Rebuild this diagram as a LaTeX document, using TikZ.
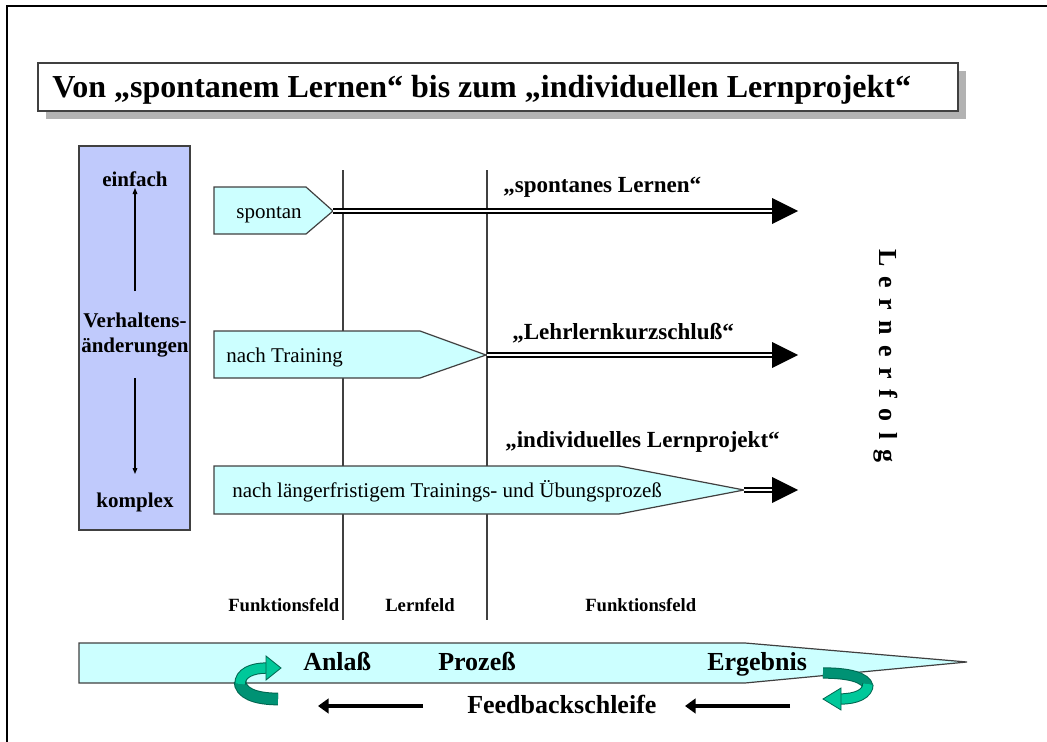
\documentclass[tikz,border=0pt]{standalone}
\usepackage{fontspec}
\setmainfont{Liberation Serif}
\usetikzlibrary{arrows.meta,calc}
\definecolor{paleCyan}{HTML}{CCFFFF}
\definecolor{lavender}{HTML}{C0CAFC}
\definecolor{edgeGray}{HTML}{404040}
\definecolor{shadowGray}{HTML}{B2B2B2}
\definecolor{tealDark}{HTML}{009274}
\definecolor{tealLight}{HTML}{00C89A}
\definecolor{tealEdge}{HTML}{006650}

\begin{document}
\begin{tikzpicture}[x=0.75pt,y=-0.75pt,
  panel/.style={fill=paleCyan, draw=edgeGray, line width=0.9pt, line join=miter},
  plain/.style={inner sep=0pt, font=\fontsize{15.75}{18}\selectfont},
  boldtxt/.style={inner sep=0pt, font=\fontsize{15.75}{18}\selectfont\bfseries},
  headline/.style={inner sep=0pt, font=\fontsize{17.3}{20}\selectfont\bfseries},
  fieldtxt/.style={inner sep=0pt, font=\fontsize{14}{16}\selectfont\bfseries},
  stagetxt/.style={inner sep=0pt, font=\fontsize{19.5}{22}\selectfont\bfseries},
  divider/.style={draw=edgeGray, line width=1pt},
  smallarrow/.style={draw=black, line width=0.8pt, -{Triangle[length=4.5pt,width=3.5pt]}},
  fbarrow/.style={draw=black, line width=3.6pt, -{Triangle[length=8pt,width=11pt]}},
  dblline/.style={draw=black, line width=1.4pt, double=white, double distance=1.6pt},
  headtri/.style={fill=black}
]
\useasboundingbox (0,0) rectangle (1047,742);

% page frame: top and left edge
\draw[line width=1.6pt] (7,742) -- (7,6) -- (1047,6);

% title bar with drop shadow
\fill[shadowGray] (46,71) rectangle (966,119);
\draw[fill=white, draw=edgeGray, line width=0.9pt] (38,63) rectangle (958,111);
\node[inner sep=0pt, anchor=base west, font=\fontsize{24}{28}\selectfont\bfseries]
  (title) at (52,98) {Von „spontanem Lernen“ bis zum „individuellen Lernprojekt“};

% scale of behaviour change
\draw[fill=lavender, draw=edgeGray, line width=0.9pt] (79,146) rectangle (190,530);
\node[boldtxt, anchor=base] (einfach) at (135,186) {einfach};
\node[boldtxt, anchor=base] (verh1) at (135,327) {Verhaltens-};
\node[boldtxt, anchor=base] (verh2) at (135,352) {änderungen};
\node[boldtxt, anchor=base] (komplex) at (135,507) {komplex};
\coordinate (upFrom) at (135,291);
\coordinate (downFrom) at (135,378);
\draw[smallarrow] (upFrom) -- (einfach.south |- 0,188);
\draw[smallarrow] (downFrom) -- (135,474);

% field dividers
\draw[divider] (343,170) -- (343,620);
\draw[divider] (487,170) -- (487,620);

% row 1: spontaneous
\draw[panel] (214,187) -- (306,187) -- (333,211) -- (306,234) -- (214,234) -- cycle;
\coordinate (spTip) at (333,211);
\coordinate (spEnd) at (772,211);
\node[plain, anchor=base] (spontan) at (269,219) {spontan};
\draw[dblline] (spTip) -- (spEnd);
\fill[headtri] (772,198) -- (798,211) -- (772,224) -- cycle;
\node[headline, anchor=base west] (lbl1) at (503,192) {„spontanes Lernen“};

% row 2: after training
\draw[panel] (214,331) -- (420,331) -- (486,355) -- (420,378) -- (214,378) -- cycle;
\coordinate (trTip) at (487,355);
\coordinate (trEnd) at (772,355);
\node[plain, anchor=base west] (training) at (226,362) {nach Training};
\draw[dblline] (trTip) -- (trEnd);
\fill[headtri] (772,342) -- (798,355) -- (772,368) -- cycle;
\node[headline, anchor=base west] (lbl2) at (512,339) {„Lehrlernkurzschluß“};

% row 3: long-term process
\draw[panel] (214,466) -- (619,466) -- (744,490) -- (619,514) -- (214,514) -- cycle;
\coordinate (lpTip) at (744,490);
\coordinate (lpEnd) at (772,490);
\node[plain, anchor=base west] (process) at (232,497) {nach längerfristigem Trainings- und Übungsprozeß};
\draw[dblline] (lpTip) -- (lpEnd);
\fill[headtri] (772,477) -- (798,490) -- (772,503) -- cycle;
\node[headline, anchor=base west] (lbl3) at (505,447) {„individuelles Lernprojekt“};

% outcome axis
\node[inner sep=0pt, rotate=-90, font=\fontsize{19.5}{22}\selectfont\bfseries\addfontfeature{LetterSpace=40}]
  (erfolg) at (886,356) {Lernerfolg};

% field labels
\node[fieldtxt, anchor=base west] (ff1) at (228,611) {Funktionsfeld};
\node[fieldtxt, anchor=base west] (lf) at (385,611) {Lernfeld};
\node[fieldtxt, anchor=base west] (ff2) at (585,611) {Funktionsfeld};

% process arrow
\draw[panel] (79,643) -- (745,643) -- (967,662) -- (745,683) -- (79,683) -- cycle;
\node[stagetxt, anchor=base west] (anlass) at (303,670) {Anlaß};
\node[stagetxt, anchor=base west] (prozess) at (438,670) {Prozeß};
\node[stagetxt, anchor=base west] (ergebnis) at (707,670) {Ergebnis};

% feedback loop
\node[stagetxt, anchor=base west] (feedback) at (467,713) {Feedbackschleife};
\coordinate (fbL1) at (423,706);
\coordinate (fbL2) at (318,706);
\coordinate (fbR1) at (790,706);
\coordinate (fbR2) at (685,706);
\draw[fbarrow] (fbL1) -- (fbL2);
\draw[fbarrow] (fbR1) -- (fbR2);

% curved return arrow at the start
\draw[tealEdge, line width=9.5pt] (278,699) .. controls (255,699) and (240,693) .. (240,681);
\draw[tealDark, line width=8pt] (278,699) .. controls (255,699) and (240,693) .. (240,681);
\draw[tealEdge, line width=8.5pt] (240,684) .. controls (240,673) and (252,668) .. (267,668);
\draw[tealLight, line width=7pt] (240,684) .. controls (240,673) and (252,668) .. (267,668);
\filldraw[fill=tealLight, draw=tealEdge, line width=0.6pt] (266,656) -- (281,668) -- (266,680) -- cycle;

% curved return arrow at the end
\draw[tealEdge, line width=8.5pt] (823,673) .. controls (848,673) and (866,677) .. (868,687);
\draw[tealDark, line width=7pt] (823,673) .. controls (848,673) and (866,677) .. (868,687);
\draw[tealEdge, line width=8.5pt] (868,684) .. controls (868,694) and (856,699) .. (840,699);
\draw[tealLight, line width=7pt] (868,684) .. controls (868,694) and (856,699) .. (840,699);
\filldraw[fill=tealLight, draw=tealEdge, line width=0.6pt] (841,688) -- (823,699) -- (841,710) -- cycle;
\end{tikzpicture}
\end{document}
